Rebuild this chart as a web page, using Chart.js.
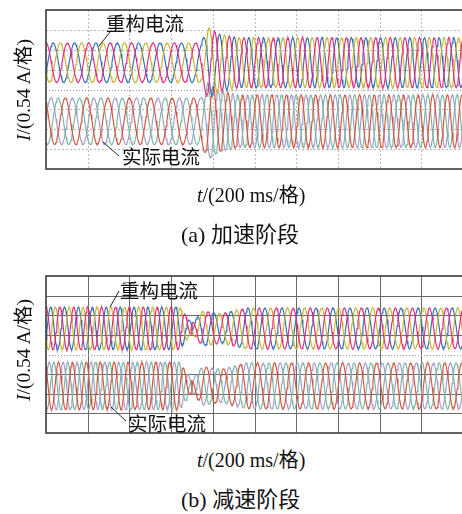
<!DOCTYPE html>
<html>
<head>
<meta charset="utf-8">
<script src="https://cdn.jsdelivr.net/npm/chart.js@4.4.1/dist/chart.umd.min.js"></script>
<style>
  html,body{margin:0;padding:0;background:#fff;width:462px;height:514px;overflow:hidden;position:relative;}
  .cv{position:absolute;left:0;}
  .txt{position:absolute;white-space:nowrap;color:#111;line-height:1;}
  .cap{font-family:"Liberation Serif","DejaVu Serif",serif;}
  .cjk{font-family:"Noto Sans CJK SC","Noto Sans CJK JP",sans-serif;}
  .ylab{position:absolute;transform:rotate(-90deg);transform-origin:center center;white-space:nowrap;font-size:19.5px;color:#111;line-height:1;}
</style>
</head>
<body>
<div class="cv" style="top:0;width:472px;height:180px;"><canvas id="ca"></canvas></div>
<div class="cv" style="top:262px;width:472px;height:182px;"><canvas id="cb"></canvas></div>

<div class="ylab" style="left:-53px;top:80px;width:150px;height:20px;text-align:center;"><span class="cap"><i>I</i>/(0.54 A/</span><span class="cjk">格</span><span class="cap">)</span></div>
<div class="ylab" style="left:-53px;top:340px;width:150px;height:20px;text-align:center;"><span class="cap"><i>I</i>/(0.54 A/</span><span class="cjk">格</span><span class="cap">)</span></div>

<div class="txt cjk" style="left:106px;top:13px;font-size:19.5px;">重构电流</div>
<div class="txt cjk" style="left:122px;top:146px;font-size:19.5px;">实际电流</div>
<div class="txt cjk" style="left:120px;top:280px;font-size:19.5px;">重构电流</div>
<div class="txt cjk" style="left:128px;top:413px;font-size:19.5px;">实际电流</div>

<div class="txt" style="left:197px;top:184px;font-size:20px;"><span class="cap"><i>t</i>/(200 ms/</span><span class="cjk">格</span><span class="cap">)</span></div>
<div class="txt" style="left:181px;top:221px;font-size:22px;"><span class="cap">(a) </span><span class="cjk">加速阶段</span></div>
<div class="txt" style="left:197px;top:449px;font-size:20px;"><span class="cap"><i>t</i>/(200 ms/</span><span class="cjk">格</span><span class="cap">)</span></div>
<div class="txt" style="left:181px;top:486px;font-size:22px;"><span class="cap">(b) </span><span class="cjk">减速阶段</span></div>

<svg style="position:absolute;left:0;top:0;" width="462" height="514">
  <g stroke="#222" stroke-width="1" fill="none">
    <line x1="110" y1="32" x2="99" y2="46"/>
    <line x1="119" y1="156" x2="103" y2="142"/>
    <line x1="119" y1="291" x2="110" y2="307"/>
    <line x1="126" y1="421" x2="111" y2="407"/>
  </g>
</svg>

<script>
// ---------------- data (time in divisions of 200 ms, current in divisions of 0.54 A) -------------
const xDivisions = 10;
const yDivisions = 8;
// one cycle of the phase-current shape, 24 samples
const cycleShape = [1, 0.966, 0.866, 0.707, 0.5, 0.259, 0, -0.259, -0.5, -0.707, -0.866, -0.966,
                    -1, -0.966, -0.866, -0.707, -0.5, -0.259, 0, 0.259, 0.5, 0.707, 0.866, 0.966];
const phaseOffsets = [0, 1/3, 2/3];

// (a) acceleration
const aFreqTimes  = [0, 3.78, 4.05, 10];
const aFreqValues = [1.95, 1.95, 2.85, 2.85];           // cycles per division
const aUpperCenter = 5.35, aLowerCenter = 2.4;          // divisions
const aAmpTimes   = [0, 3.72, 3.88, 4.15, 4.6, 10];
const aUpperAmp   = [1.0, 1.0, 1.8, 1.45, 1.27, 1.27];
const aLowerAmp   = [1.18, 1.18, 1.95, 1.55, 1.34, 1.34];
const aPhaseJumpTimes = [], aPhaseJumps = [];

// (b) deceleration
const bFreqTimes  = [0, 3.35, 3.8, 10];
const bFreqValues = [3.0, 3.0, 2.45, 2.45];
const bUpperCenter = 5.33, bLowerCenter = 2.4;
const bAmpTimes   = [0, 3.2, 3.5, 3.75, 4.2, 4.8, 10];
const bUpperAmp   = [1.1, 1.1, 0.25, 0.9, 0.75, 1.05, 1.05];
const bLowerAmp   = [1.22, 1.22, 0.3, 1.0, 0.85, 1.18, 1.18];
const bPhaseJumpTimes = [3.5], bPhaseJumps = [0.5];

const upperColors = ['#e3277f', '#c8b42e', '#2f6db3'];
const lowerColors = ['#d6513a', '#79b5a0', '#a09dcc'];
const sampleStep = 0.02;

// ---------------- build ----------------
function lerpKeys(ts, vs, t){
  if (t <= ts[0]) return vs[0];
  for (let i = 1; i < ts.length; i++){
    if (t <= ts[i]){ const u = (t - ts[i-1])/(ts[i]-ts[i-1]); return vs[i-1] + u*(vs[i]-vs[i-1]); }
  }
  return vs[vs.length-1];
}
function shapeAt(p){
  let f = p - Math.floor(p); const x = f*cycleShape.length; const i = Math.floor(x); const u = x - i;
  const a = cycleShape[i % cycleShape.length], b = cycleShape[(i+1) % cycleShape.length];
  return a + u*(b-a);
}
function buildSeries(freqT, freqV, ampT, ampV, center, jumpT, jumpV, colors, startPhase){
  const sets = phaseOffsets.map((o,k)=>({data:[], borderColor:colors[k], borderWidth:1.15, pointRadius:0, tension:0, fill:false}));
  let phase = startPhase;
  for (let t = 0; t <= xDivisions + 0.2; t += sampleStep){
    let jump = 0; jumpT.forEach((jt,j)=>{ if (t >= jt) jump += jumpV[j]; });
    const amp = lerpKeys(ampT, ampV, t);
    phaseOffsets.forEach((o,k)=>{
      sets[k].data.push({x:t, y: center + amp*shapeAt(phase + jump + o)});
    });
    phase += lerpKeys(freqT, freqV, t)*sampleStep;
  }
  return sets;
}

function gridPlugin(style){
  return {
    id:'grid'+style,
    beforeDatasetsDraw(chart){
      const {ctx, chartArea:a, scales:{x,y}} = chart;
      ctx.save();
      ctx.lineWidth = 1;
      if (style === 'dash'){ ctx.strokeStyle = '#b8b8b8'; ctx.setLineDash([2,2]); }
      else { ctx.strokeStyle = '#6a6a6a'; ctx.setLineDash([]); }
      for (let i = 1; i < xDivisions; i++){
        const px = Math.round(x.getPixelForValue(i)) + 0.5;
        ctx.beginPath(); ctx.moveTo(px, a.top); ctx.lineTo(px, a.bottom); ctx.stroke();
      }
      for (let j = 1; j < yDivisions; j++){
        const py = Math.round(y.getPixelForValue(j)) + 0.5;
        ctx.save();
        if (j === yDivisions/2){ ctx.strokeStyle = '#9a9a9a'; ctx.setLineDash([1,2]); }
        ctx.beginPath(); ctx.moveTo(a.left, py); ctx.lineTo(a.right, py); ctx.stroke();
        ctx.restore();
      }
      ctx.restore();
    },
    afterDraw(chart){
      const {ctx, chartArea:a} = chart;
      ctx.save();
      ctx.strokeStyle = '#3a3a3a'; ctx.lineWidth = 1.6; ctx.setLineDash([]);
      ctx.strokeRect(a.left, a.top, a.right - a.left, a.bottom - a.top);
      ctx.restore();
    }
  };
}

function makeChart(id, datasets, pad, style){
  return new Chart(document.getElementById(id), {
    type:'line',
    data:{datasets},
    options:{
      responsive:true, maintainAspectRatio:false, animation:false, events:[],
      layout:{padding:pad},
      plugins:{legend:{display:false}, tooltip:{enabled:false}},
      scales:{
        x:{type:'linear', min:0, max:xDivisions, display:false},
        y:{type:'linear', min:0, max:yDivisions, display:false}
      }
    },
    plugins:[gridPlugin(style)]
  });
}

const aSets = buildSeries(aFreqTimes, aFreqValues, aAmpTimes, aUpperAmp, aUpperCenter, aPhaseJumpTimes, aPhaseJumps, upperColors, 0)
  .concat(buildSeries(aFreqTimes, aFreqValues, aAmpTimes, aLowerAmp, aLowerCenter, aPhaseJumpTimes, aPhaseJumps, lowerColors, 0.1));
const bSets = buildSeries(bFreqTimes, bFreqValues, bAmpTimes, bUpperAmp, bUpperCenter, bPhaseJumpTimes, bPhaseJumps, upperColors, 0)
  .concat(buildSeries(bFreqTimes, bFreqValues, bAmpTimes, bLowerAmp, bLowerCenter, bPhaseJumpTimes, bPhaseJumps, lowerColors, 0.1));

makeChart('ca', aSets, {left:46, top:10, right:9, bottom:11}, 'dash');
makeChart('cb', bSets, {left:46, top:14, right:9, bottom:11}, 'solid');
</script>
</body>
</html>
